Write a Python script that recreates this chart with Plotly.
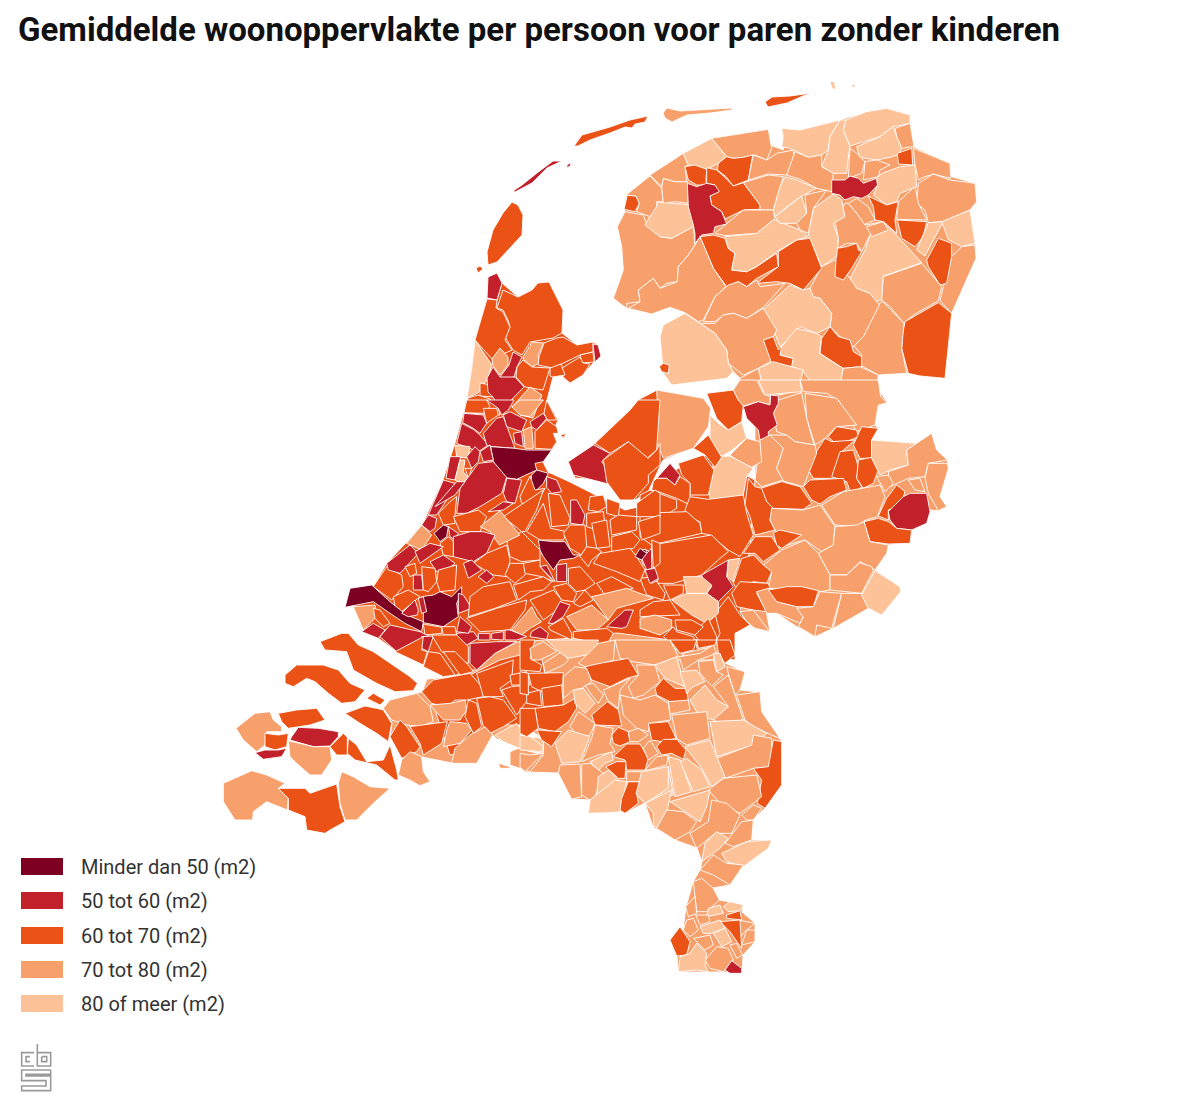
import plotly.graph_objects as go

TITLE = "Gemiddelde woonoppervlakte per persoon voor paren zonder kinderen"
LEGEND_LABELS = ["Minder dan 50 (m2)", "50 tot 60 (m2)", "60 tot 70 (m2)", "70 tot 80 (m2)", "80 of meer (m2)"]
CLASS_COLORS = ["#7d0022", "#c2202a", "#ea5216", "#f8a06c", "#fdc298"]
LEGEND_TOPS = [858, 892, 927, 961, 995]

# Municipal outlines. Each entry: class index, then outline points.
# Coordinates are in the reading frame of the crop named by each group.
BASE = [
"2 487,298 497,300 502,283 518,297 532,290 538,283 549,282 563,310 562,333 577,345 593,342 598,345 601,356 594,362 583,375 570,383 562,370 553,377 547,400 558,420 553,432 557,442 552,450 543,462 548,472 570,482 625,510 655,503 665,475 705,455 755,480 770,600 750,625 735,633 735,660 617,655 573,650 517,650 495,653 477,670 473,672 460,675 443,677 423,665 397,652 378,638 363,630 353,607 374,585 387,563 421,527 443,480 455,443 467,400 475,340",
"3 422,692 390,700 383,708 392,723 390,737 402,758 398,775 420,786 430,782 423,772 422,757 452,763 477,763 493,735 498,740 517,723 543,738 543,753 525,772 558,773 572,799 590,800 588,813 620,812 625,813 645,803 653,827 675,840 697,848 702,862 700,870 693,882 686,907 683,930 670,940 677,956 678,972 723,972 742,973 743,955 755,942 755,923 742,912 743,905 730,902 719,900 713,888 730,885 743,867 768,848 772,840 752,840 753,820 765,808 782,785 782,742 762,712 760,692 740,690 745,672 725,663 735,655 730,640 670,640 617,633 573,638 517,642 495,653 477,670 472,670 450,677 427,679",
"2 430,695 500,660 540,650 550,700 530,725 500,725 470,750 450,755",
"2 568,462 593,445 630,410 638,400 657,390 703,398 711,408 708,427 693,448 663,460 648,492 635,500 620,492 600,480 575,478",
]
# crop at x=640, y=380, 3x
EAST_BASE = [
"3 345,0 715,0 722,50 742,68 715,75 705,135 715,145 695,180 830,190 875,160 890,210 922,240 925,265 900,350 920,380 895,392 870,390 860,430 815,450 810,490 745,495 740,520 705,570 780,620 782,635 725,705 685,685 580,745 525,770 470,740 410,700 380,700 390,755 345,745 320,725 300,695 330,500 345,300",
]
ISLANDS = [
"2 574,146 582,135 610,127 630,120 648,116 645,122 635,124 632,128 625,127 610,133 590,140 578,146",
"3 663,113 667,108 680,111 732,108 732,110 710,113 687,115 672,122 665,118",
"2 765,102 772,97 790,96 812,93 803,96 787,103 768,107",
"4 830,82 834,81 836,90 832,88",
"4 851,84 856,85 853,88",
"1 513,191 522,185 537,173 553,161 562,161 547,168 532,183 523,188 515,192",
"1 567,165 570,163 571,165 567,168",
"2 487,252 493,230 503,213 512,202 518,205 523,215 522,235 510,248 497,262 488,265",
"2 476,268 480,266 483,269 478,273",
"1 487,298 488,277 497,273 502,283 497,300",
"2 497,308 503,290 518,297 532,290 538,283 549,282 563,310 562,333 553,338 530,342 522,355 513,350 505,337 510,327 508,320 503,310",
"2 475,340 487,299 497,300 496,308 503,312 510,327 505,340 512,350 492,359",
"4 475,340 492,365 487,380 478,393 467,398 472,367",
"3 492,359 500,348 508,357 508,365 500,375 493,366",
"1 513,352 522,357 517,367 514,377 503,379 500,377 509,365",
"2 480,383 490,385 495,397 480,396",
"1 487,378 493,367 500,377 515,377 524,387 513,398 503,415 493,397 488,392",
"3 523,357 532,342 544,343 538,355 539,363 532,367 523,359",
"2 539,357 544,343 557,338 563,337 577,345 593,342 593,352 580,355 553,368 538,365",
"1 593,344 598,345 601,356 595,362",
"2 580,355 593,352 594,362 582,363",
"2 562,368 580,357 583,363 590,364 583,375 570,383 563,377",
"2 550,368 561,364 565,375 553,377 550,376",
"2 517,367 523,360 532,367 550,368 543,390 525,387 516,377",
"3 512,407 530,387 542,395 533,418 520,415",
"2 466,413 468,398 478,395 490,399 498,407 500,415",
]
# crop at x=600, y=70, 3x
NORTH = [
"3 40,685 70,600 65,530 52,470 75,420 78,378 150,315 250,250 335,205 505,178 510,225 550,240 545,175 600,180 720,150 800,125 860,115 930,135 940,230 1050,280 1055,320 1125,340 1130,395 1110,420 1125,520 1128,565 1090,650 1055,730 1035,925 960,918 925,910 835,915 830,950 860,995 820,1020 420,1020 400,960 420,925 400,905 385,880 380,840 345,790 300,760 255,728 210,712 155,732 85,715 80,715",
"3 52,470 75,425 130,435 140,465 180,500 215,505 280,470 285,525 265,555 235,590 232,635 200,640 180,655 160,625 115,660 120,695 80,700 80,715 40,685 70,600 65,530",
"4 135,465 175,395 220,400 260,405 278,405 280,470 215,505 180,500",
"2 72,418 82,375 108,378 118,400 105,425",
"3 78,375 150,318 185,355 190,395 170,395 170,410 150,440 120,430 110,425 118,400 108,378",
"3 185,350 190,325 225,335 262,335 265,400 225,395 190,400",
"3 150,315 250,250 265,285 255,290 260,335 225,335 190,325 185,350",
"4 250,250 335,205 380,260 355,280 320,298 285,290 265,285",
"3 335,205 505,178 515,235 500,270 465,255 430,262 400,265 380,260",
"2 255,290 285,285 320,298 318,330 320,345 290,345 265,330",
"2 355,280 380,260 400,265 430,262 458,255 445,330 400,348 378,320 352,300",
"2 320,293 350,300 378,325 400,348 430,338 480,405 480,418 430,420 375,447 365,425 335,405 330,378 355,365 345,345 320,340",
"1 262,340 290,350 320,340 345,345 358,365 330,378 335,405 365,425 380,462 345,470 340,490 305,495 285,520 285,490 280,465 265,410",
"3 445,330 460,255 500,270 530,250 580,240 583,275 560,315 505,312",
"3 430,338 505,315 550,320 520,420 480,420 480,405",
"4 545,175 600,180 720,150 690,200 685,240 665,255 625,262 590,245 570,235 545,230 550,200",
"4 720,150 738,150 730,180 750,228 745,262 740,310 700,310 665,290 685,240 690,200",
"4 738,150 800,125 860,115 930,135 930,160 880,170 840,200 790,215 750,228 730,180",
"3 885,175 930,160 942,230 935,230 905,235 890,200",
"4 770,230 840,200 880,170 890,200 905,235 893,255 870,262 830,270 780,262",
"2 892,250 935,235 938,285 895,282",
"3 940,235 1050,280 1052,325 1000,312 975,320 955,330 945,285",
"3 750,235 770,250 795,275 785,310 745,325",
"3 795,275 830,270 870,285 840,300 835,320 790,330",
"3 560,315 585,245 625,262 665,255 665,290 700,310 695,365 650,355 600,328",
"1 695,330 735,330 750,318 775,325 790,340 830,325 833,345 805,375 785,385 760,380 735,390 720,375 695,370",
"4 845,310 900,290 945,285 950,350 900,370 890,395 860,405 820,375 833,345 830,325",
"3 955,340 1000,312 1050,330 1125,340 1130,395 1110,420 1030,455 985,458 975,420 950,400",
"3 895,395 945,350 955,400 980,450 890,448",
"3 745,400 770,385 805,410 825,450 790,465 770,430",
"2 805,378 860,405 895,395 885,450 890,490 850,455 825,450 820,410",
"2 892,450 980,455 970,500 945,530 905,505",
"4 985,458 1030,455 1000,510 975,558 950,540",
"4 1025,455 1110,420 1125,520 1085,530 1045,508",
"3 1085,530 1125,525 1128,565 1090,650 1055,730 1020,692 1030,650 1055,560",
"4 750,625 795,540 810,495 855,458 965,578 850,618 845,690 825,695 810,670 770,655",
"2 980,570 1015,505 1055,520 1055,560 1040,640 1020,645 985,590",
"3 850,620 965,580 1025,650 1015,692 940,735 912,760 870,710 845,690",
"2 908,790 915,755 1015,698 1055,730 1035,925 960,918 925,910 905,835",
"3 760,825 800,770 838,700 848,695 912,760 905,835 920,910 835,915 780,885 785,855",
"3 630,655 665,590 705,570 750,625 770,655 810,670 838,705 790,800 760,830 720,800 690,770 695,730 660,685 635,680",
"3 705,455 735,400 745,400 770,430 795,465 850,455 810,495 785,545 770,520 740,520 712,535 715,505",
"2 705,620 710,535 740,530 770,520 775,540 785,545 755,595 730,630",
"3 800,470 850,455 865,480 815,500",
"4 640,415 700,372 725,390 735,440 700,460 715,505 710,560 665,590 630,510 625,490",
"2 470,640 535,590 535,545 590,510 630,505 665,595 610,660 570,640 530,635",
"2 300,500 340,495 375,505 385,535 405,550 395,600 440,605 470,590 530,550 535,590 470,625 440,650 415,635 380,650 340,595",
"4 375,500 470,490 520,448 600,480 625,500 590,510 530,545 470,590 440,605 395,600 405,550 385,535",
"3 345,490 380,460 430,420 520,420 525,445 470,490 375,497",
"4 520,420 540,350 555,320 590,330 650,355 610,375 560,410 525,440",
"4 525,440 605,378 620,430 590,460 540,460",
"3 590,460 620,430 615,375 680,360 640,415 625,490 600,480",
"3 115,660 160,625 180,655 232,635 235,590 265,555 285,525 300,500 340,595 378,650 345,680 310,750 295,755 255,728 210,712 155,732 85,715 120,695",
"3 310,755 345,680 385,645 415,635 440,650 470,630 480,650 555,640 490,712 440,745 400,730 370,735 345,755",
"4 490,718 570,645 610,660 630,655 640,680 660,685 695,730 690,770 650,790 600,770 580,795 540,830 520,780",
"3 300,760 345,760 370,735 400,730 440,745 490,715 530,780 520,800 490,810 520,870 475,895 430,915 385,880 380,840 345,790",
"2 490,810 520,800 535,840 550,825 540,855 580,865 575,890 515,880",
"4 545,830 590,775 650,790 665,800 658,850 705,880 730,895 720,945 640,945 610,905 575,890 580,865 540,855",
"2 690,770 715,800 750,810 760,845 785,860 785,890 730,895 700,875 660,850 665,805",
"4 180,800 190,765 255,730 300,760 345,790 380,840 385,880 400,905 380,925 215,945 190,910",
"2 178,890 190,880 208,885 205,910 185,905",
"4 475,895 520,875 610,900 595,960 540,975 490,960",
"3 420,925 475,895 490,960 510,985 440,985 400,960",
"3 600,955 640,945 720,945 730,895 780,890 835,915 830,950 860,995 820,1020 610,1020",
]
# crop at x=640, y=380, 3x
EAST = [
"3 50,30 190,55 212,85 205,140 160,205 70,235 42,170 55,130",
"2 200,40 280,30 295,60 310,75 305,125 265,150 230,115 215,75",
"3 280,30 300,0 350,0 370,40 390,50 390,75 355,65 310,78 295,60",
"4 355,0 480,0 485,35 375,45",
"3 480,0 715,0 722,50 742,68 715,75 705,135 650,155 595,60 560,40 490,35",
"3 495,40 590,55 650,135 590,140 555,175 525,195 500,115",
"3 410,155 400,100 415,60 485,38 500,115 522,195 465,185 440,165",
"1 310,80 355,65 390,75 392,45 415,48 415,70 400,100 412,135 385,155 385,180 360,180 355,150 320,115",
"2 565,170 590,140 650,150 655,170 620,185 580,185",
"2 500,260 555,175 575,185 645,180 605,215 595,245 580,295 520,295",
"2 640,195 665,140 715,145 695,180 695,235 660,235",
"2 575,290 600,215 640,210 655,260 650,295 665,320 635,345 620,305",
"2 655,240 695,232 715,270 700,310 670,325 650,295",
"4 695,180 830,190 800,210 805,255 750,270 720,285 695,235",
"3 800,210 875,160 890,210 922,240 865,250 855,290 805,295 750,320 745,275 805,255",
"3 865,250 922,250 925,265 900,350 920,380 895,392 865,340 855,295",
"3 805,300 840,295 855,335 825,330",
"3 710,290 745,285 760,310 735,335",
"2 715,408 740,355 770,315 795,335 790,350 770,380 745,390 745,420",
"1 745,395 790,350 810,340 860,340 870,395 860,430 815,450 770,445 750,420",
"2 672,425 715,415 745,425 770,445 815,450 810,490 745,492 690,485",
"3 545,375 610,335 720,315 735,350 712,410 672,422 655,440 585,435",
"2 490,320 510,300 610,295 620,330 570,350 540,372 515,360",
"2 362,325 425,305 480,320 515,370 490,388 400,385 380,365",
"3 345,300 360,180 390,165 430,205 410,265 430,300 365,320",
"3 390,165 440,165 465,185 525,195 530,220 490,320 430,303 410,265 430,205",
"3 270,225 320,175 360,185 365,245 335,262 295,245",
"4 210,105 235,130 265,150 305,125 320,175 270,215 240,232 210,175",
"4 225,230 270,228 340,265 320,290 310,345 210,360 205,320",
"2 160,205 205,165 245,232 225,262 195,225",
"2 115,250 190,225 222,270 205,345 150,345 150,310 125,285",
"1 50,295 90,250 120,285 105,315 80,295",
"2 40,305 50,295 80,295 105,315 120,290 150,310 150,375 110,355 55,335 35,330",
"2 0,345 30,330 110,360 110,385 70,410 0,400",
"2 135,390 150,350 205,358 310,345 320,400 340,465 300,530 265,510 210,465 185,460 180,425 140,410",
"2 315,375 325,295 345,320 365,325 380,365 400,385 390,420 405,450 345,465 330,410",
"3 395,385 490,390 540,375 585,440 580,495 545,515 495,480 425,500 405,450 390,420",
"2 400,458 420,450 485,465 425,505 410,495",
"3 585,440 650,435 672,425 690,485 745,495 740,520 705,570 660,545 620,585 570,585 535,520 580,495",
"3 365,560 425,510 495,480 535,520 570,585 570,630 540,635 385,625 395,575",
"2 310,520 345,470 395,470 420,510 370,545 345,520",
"2 0,400 140,395 180,430 185,460 35,495 0,470",
"2 35,495 215,465 265,515 240,535 185,585 100,610 55,610 30,550",
"1 185,585 265,540 260,590 280,620 235,665 200,640 215,620 190,605",
"4 265,540 300,535 280,600 285,612 262,590",
"2 305,535 340,525 370,555 395,575 380,610 340,605 290,625 280,610",
"2 275,640 300,605 385,610 390,625 350,640 380,695 340,690 290,680",
"3 350,635 385,625 410,665 470,680 490,710 480,730 410,700 380,700",
"2 385,630 440,620 485,620 535,632 520,680 470,680 410,665",
"3 470,685 520,680 540,635 605,640 575,745 530,735 525,770 475,740 490,712",
"3 580,745 605,640 665,640 685,685",
"3 570,585 620,585 660,548 695,560 700,572 665,640 570,630",
"4 705,572 780,620 782,635 725,705 685,685 665,645",
"3 300,695 340,690 385,750 390,755 345,745 320,725",
"2 225,700 265,650 300,705 330,735 285,760 285,840 250,835 230,780 240,760",
"4 95,660 140,640 200,640 235,665 235,700 200,730 155,705",
"4 130,590 185,590 215,615 200,640 140,640",
"2 70,615 130,615 130,640 90,660",
"2 0,595 40,590 75,640 70,660 20,645",
"1 15,570 40,560 55,600 35,610",
"1 0,530 20,510 35,520 30,560 10,555",
"0 0,510 18,508 20,530 0,530",
"2 160,760 205,715 230,770 230,790 195,805",
"2 105,720 155,720 190,740 165,765 110,750",
"2 70,770 100,740 110,755 160,770 175,815 130,820",
"2 0,690 40,665 90,660 120,705 0,710",
"3 0,715 45,705 95,720 95,745 60,765 0,745",
"3 0,790 70,790 130,820 125,840 0,840",
"3 130,820 195,805 225,820 220,840 130,840",
]
# crop at x=340, y=400, 3x
WEST = [
"2 380,0 440,0 450,20 430,40 372,38",
"1 372,40 430,45 440,70 420,100 400,85 368,68",
"1 365,70 400,88 420,105 445,135 415,155 350,130",
"1 430,100 470,55 490,50 520,130 525,145 455,140 440,135",
"2 430,25 470,25 475,45 440,70",
"1 440,0 522,0 505,30 485,45 475,25",
"3 515,20 540,0 610,0 570,50 540,45",
"1 490,45 510,35 560,60 545,95 500,80",
"1 520,100 545,95 550,140 525,130",
"3 550,90 575,80 580,145 555,145",
"1 570,65 610,40 620,55 590,90 575,80",
"2 585,95 620,60 650,80 655,100 640,100 650,125 635,148 585,145",
"2 620,0 650,60 622,60 612,40",
"0 452,140 525,145 560,150 635,150 610,185 585,190 590,210 555,225 530,238 490,232 460,185",
"0 575,225 590,210 625,220 610,250 585,275 570,260",
"1 620,230 650,240 665,275 635,280 620,262",
"2 660,105 680,100 670,113",
"4 345,135 390,140 385,175 350,170",
"1 330,170 362,170 345,240 318,235",
"4 360,180 375,180 370,215 385,235 365,250 345,240",
"2 375,205 395,205 385,235",
"1 380,170 405,140 420,155 415,185 395,205",
"1 420,155 450,135 460,180 430,185",
"1 350,340 360,265 415,190 460,185 500,232 485,280 420,320 380,340",
"1 500,235 545,240 525,310 500,305 490,280",
"2 540,290 570,228 585,270 615,265 590,310 545,310",
"1 445,335 490,305 520,310 490,330",
"1 265,345 310,240 345,250 320,300 290,345",
"1 285,320 350,245 375,245 345,285",
"2 295,340 330,305 350,290 345,345 345,370 310,375",
"1 245,375 265,345 290,355 285,385 270,395",
"3 200,430 245,375 275,405 245,450",
"0 282,400 310,375 325,380 320,410 300,425",
"1 325,380 355,400 345,420 330,410",
"2 340,350 415,330 440,350 420,395 360,395",
"2 490,350 610,270 590,330 555,395 545,395",
"2 500,420 545,395 600,450 600,480 545,485 510,470",
"3 420,380 480,332 540,405 478,435 450,395",
"1 340,410 390,395 430,395 465,405 440,460 400,485 340,470",
"2 300,430 325,410 340,425 340,470 310,465",
"2 100,560 140,500 185,525 190,560 155,600 110,565",
"1 140,490 210,435 235,460 180,520 145,510",
"1 225,455 270,430 310,440 270,470 240,490",
"1 270,485 310,465 345,490 320,510 290,515",
"2 195,500 225,490 230,520 210,530",
"1 220,525 245,525 250,570 220,570",
"2 245,500 285,505 290,545 265,575 250,570",
"2 295,510 350,495 345,570 300,575 290,545",
"2 160,590 205,570 240,590 185,635 165,620",
"0 15,622 30,565 95,555 150,605 200,645 250,665 245,695 195,670 150,640 100,605",
"0 245,590 280,585 300,575 335,590 365,560 365,580 350,610 355,650 310,680 250,668 250,640",
"1 185,640 225,600 235,630 232,645 205,650",
"1 235,595 250,590 260,635 245,640",
"1 355,580 370,585 395,625 355,640",
"2 400,490 440,460 500,435 510,480 500,530 460,525",
"1 370,490 395,480 425,510 385,535",
"1 415,530 440,510 462,530 440,550",
"2 560,395 610,310 632,385 680,395 670,420 640,420 600,420",
"2 635,380 625,280 660,285 690,355 685,375",
"1 692,300 710,300 735,345 728,375 692,370",
"2 670,400 690,375 735,375 740,440 725,465 690,445",
"0 595,420 640,425 675,425 700,465 720,465 700,475 660,480 640,510 610,470 600,450",
"1 600,500 620,495 645,545 625,525",
"1 650,495 680,490 680,545 650,545",
"2 510,490 550,490 560,520 525,550 495,525",
"2 550,490 600,480 600,500 640,545 605,530 555,520",
"2 520,555 610,530 635,545 610,570 570,575 535,600",
"2 390,590 430,560 510,545 530,600 465,625 385,650",
"2 380,655 470,625 560,600 555,630 510,690 420,695",
"3 515,690 575,620 590,650 605,665 570,685 545,705",
"2 570,600 640,570 665,600 645,635 610,660",
"1 625,670 660,605 690,615 670,650 640,670",
"2 640,560 680,550 710,580 700,605 665,600",
"2 700,610 735,570 760,600 720,620",
"2 685,505 720,500 765,550 735,570 710,575 685,550",
"2 750,290 790,285 800,320 775,335 745,330",
"2 800,295 840,310 835,350 800,340",
"2 740,340 790,335 795,375 755,385 740,380",
"2 755,370 800,360 810,440 770,445",
"2 810,360 835,345 890,350 890,390 815,405",
"2 890,310 945,270 960,280 960,350 890,350",
"2 815,410 875,395 900,420 880,445 815,460",
"2 895,365 960,345 960,400 905,420",
"2 780,460 870,445 890,470 915,510 900,545 830,515 760,490",
"2 740,440 770,445 785,455 755,480 745,500 720,470",
"2 770,550 815,530 880,565 795,585",
"2 935,420 960,430 960,490 940,505",
"1 905,475 935,445 935,505 920,510",
"0 885,470 900,445 920,460 905,480",
"1 915,510 945,505 955,535 930,550",
"3 755,590 860,565 940,595 830,625 805,660 760,600",
"3 680,650 755,615 805,660 770,690 710,690",
"1 800,680 855,630 880,630 860,680 845,685",
"2 625,680 670,655 695,700 695,720 630,690",
"1 575,695 600,680 625,700 620,718 570,710",
"2 700,695 800,685 820,700 800,735 700,715",
"1 390,730 470,725 530,725 465,760 410,810 390,790",
"1 415,700 450,700 450,720 415,720",
"1 455,700 490,695 490,720 455,718",
"1 495,690 510,690 560,710 530,720 495,720",
"1 350,700 400,695 415,715 380,735 350,725",
"1 360,650 395,680 385,700 350,695",
"2 250,672 305,682 305,700 255,705",
"2 305,680 345,680 350,705 310,705",
"1 120,710 150,675 240,695 270,710 170,755",
"1 65,695 100,670 135,690 115,715",
"3 40,620 105,615 110,650 70,690",
"2 100,625 120,630 150,670 130,680 105,655",
"1 245,710 280,708 265,755 245,745",
"2 165,755 250,710 245,750 262,755 250,795",
"2 250,800 265,755 300,760 345,825 310,830",
"2 275,705 350,705 385,740 385,790 340,775 305,755",
"2 310,755 345,755 385,795 400,815 360,825",
"1 685,185 760,135 810,160 785,185 830,250 805,252 700,225",
"2 765,130 870,30 895,0 960,0 950,150 920,175 865,125 810,160",
"2 790,180 865,125 925,175 950,150 960,130 960,195 925,225 925,250 880,300 840,300 800,245",
]
# crop at x=210, y=620, 3x
SOUTHWEST = [
"2 330,65 395,40 415,40 445,75 490,95 550,135 600,170 622,190 610,212 555,215 500,190 430,150 410,95 345,90",
"2 225,165 260,135 340,135 385,150 420,190 465,210 435,245 395,250 355,220 315,185 290,175 250,200 225,190",
"2 470,235 490,220 525,240 510,255",
"2 205,280 260,270 320,265 345,300 300,315 260,320 235,325 215,305",
"3 78,325 135,280 180,275 190,300 215,320 215,335 170,335 165,375 140,395 100,360",
"2 165,340 205,345 235,340 230,380 195,390 165,380",
"1 135,398 165,390 205,390 230,385 215,410 160,418",
"1 245,350 265,322 325,325 385,335 385,350 360,378 310,380 240,360",
"3 235,362 310,380 360,380 365,420 335,465 300,465 260,430 240,410",
"2 360,380 400,340 412,352 412,405 380,405",
"2 415,355 440,375 470,425 520,420 540,375 560,450 565,480 555,480 500,435 435,420 412,400",
"2 405,280 465,258 500,265 520,270 545,310 535,365 500,340 450,310",
"3 520,265 540,240 620,220 660,260 670,305 630,320 590,315 545,300",
"2 635,215 670,180 780,160 820,205 820,230 770,240 735,240 710,262 665,250",
"3 660,255 720,250 765,240 770,270 750,300 700,300",
"2 765,290 775,240 800,250 815,320 790,340",
"2 800,235 840,230 880,240 920,295 880,320 840,340 820,320",
"2 540,350 570,300 590,320 630,380 620,395 575,415",
"2 600,320 670,310 712,305 695,370 640,405 630,370",
"3 700,380 712,325 720,305 770,310 785,330 750,370",
"3 725,430 735,385 780,345 825,320 848,345 800,430",
"3 575,420 600,395 635,410 640,455 660,485 630,497 600,480 565,465",
"4 855,345 920,310 950,350 1000,355 1000,400 940,390 880,365",
"3 900,395 925,385 1000,405 960,455 900,435",
"3 865,430 900,440 900,445 870,445",
"3 40,490 125,452 170,465 225,490 205,505 235,535 232,570 170,545 130,575 128,600 75,600 40,545",
"2 205,505 285,505 300,520 380,492 390,560 405,605 360,630 345,640 290,630 285,590 235,570 235,535",
"3 385,490 395,455 430,470 480,500 540,505 490,550 440,600 405,600 390,550",
"2 905,200 950,195 960,230 920,285 875,210",
"2 800,160 910,120 905,180 870,205 880,230 820,230",
"2 900,165 950,155 960,195 905,195",
]
# crop at x=520, y=640, 3x
SOUTHEAST = [
"4 0,285 30,290 70,320 65,335 0,330",
"3 0,340 30,345 70,340 35,375 15,395 0,380",
"2 25,100 130,98 128,135 65,155 35,140",
"2 65,145 125,135 130,195 70,200",
"2 20,160 60,150 65,198 20,190",
"2 45,205 130,195 165,175 170,205 145,245 105,275 55,265",
"2 0,205 45,205 55,265 20,290 0,280",
"2 50,270 125,275 95,320 65,300",
"2 0,95 25,100 25,165 0,160",
"2 0,0 45,0 30,55 65,75 60,95 0,90",
"3 30,25 70,5 110,35 60,60 35,60",
"3 70,70 125,35 145,60 130,75 75,100",
"4 80,0 235,0 225,40 145,55 110,30",
"3 175,70 235,10 285,0 280,60 205,85",
"3 285,0 450,0 475,50 405,75 340,65 300,55",
"2 195,80 240,70 325,55 355,105 320,115 270,140 215,120",
"3 130,110 165,80 200,85 215,125 185,145 160,150 130,175",
"3 350,75 405,75 420,125 370,165 340,175 325,140 355,105",
"4 405,75 470,50 495,140 435,115",
"2 405,145 430,115 465,145 500,145 505,185 450,185 410,165",
"4 480,95 530,90 555,125 520,140 500,160",
"3 478,50 540,40 580,15 590,40 535,60 490,90",
"2 450,0 530,0 520,30 480,40",
"2 530,0 590,0 585,15 535,25",
"2 590,0 630,0 645,45 615,70 595,40",
"3 535,65 580,60 590,95 610,105 575,138 540,100",
"4 580,40 600,40 615,80 590,95",
"3 620,80 675,95 660,150 645,165 625,100",
"3 580,140 625,105 670,240 590,250 580,235 625,200",
"4 510,180 555,135 590,180 625,200 580,240 535,225",
"3 445,185 505,180 510,210 450,222",
"3 650,165 720,155 725,215 780,295 755,285 700,260 675,240",
"3 300,165 360,180 405,165 445,190 452,240 390,250 385,275 350,265 310,225",
"3 250,150 330,115 300,150 295,205 262,180",
"4 160,150 190,145 225,190 195,220 165,190",
"3 195,135 220,130 250,165 235,190 215,165",
"2 215,225 262,185 295,210 305,258 225,255",
"3 150,260 175,215 225,250 210,285 180,295",
"2 275,285 295,262 325,275 330,305 300,318 280,310",
"3 325,275 355,265 385,285 355,305 330,305",
"2 385,250 445,245 468,295 425,305 395,300",
"2 410,320 430,298 470,298 498,330 490,358 455,340 425,345",
"3 455,225 560,215 570,295 500,315 470,295",
"4 570,245 670,240 740,280 700,315 590,350",
"3 590,355 695,315 700,285 755,295 755,380 700,385 615,415",
"2 700,385 745,380 760,300 785,305 785,435 735,505 712,490 725,420",
"4 495,320 570,300 615,410 575,440 545,385",
"3 565,450 610,415 710,405 725,470 660,520 600,490",
"4 480,365 500,355 545,390 570,440 520,455",
"4 445,350 480,360 515,455 465,470",
"4 345,460 445,380 460,465 375,490",
"4 450,485 570,450 560,500 540,545 510,525",
"4 375,490 455,450 430,560 400,560 400,520",
"3 410,565 440,510 490,515 530,545 510,575 465,600",
"3 510,580 565,545 575,480 620,490 660,525 635,580 585,580 530,625",
"3 615,610 665,545 700,540 695,600 640,620",
"3 665,525 700,495 725,505 700,540 680,540",
"4 555,610 590,575 625,595 600,625 580,640 545,665",
"4 605,640 680,605 755,600 745,625 670,680 620,665",
"3 540,690 580,645 620,670 670,675 630,735 580,705",
"3 520,725 545,715 580,745 598,780 560,815 530,815",
"3 497,800 525,770 530,820 505,830",
"4 565,805 600,795 610,820 560,830",
"4 610,800 630,785 670,795 660,812 625,815",
"2 620,825 660,812 665,840 620,835",
"3 655,840 705,850 680,870 660,890",
"2 600,845 660,840 665,925 630,875",
"3 680,870 705,870 705,905 665,915",
"3 527,825 565,825 570,845 540,855",
"4 540,860 600,840 615,865 575,880 550,880",
"3 500,840 520,835 535,870 510,890 490,870",
"2 450,900 480,860 510,905 500,945 470,948",
"3 520,895 570,885 580,915 555,930",
"4 580,880 615,865 635,905 605,920",
"3 630,915 650,910 668,945 650,955",
"3 555,960 590,920 625,925 640,960 610,995 570,985",
"4 475,995 480,950 510,940 530,910 560,940 555,975 565,995 530,990",
"1 615,990 635,962 665,985 665,1000 630,1000",
"3 185,365 215,295 225,255 280,265 270,310 285,335 235,345",
"4 210,365 275,335 280,360 255,370 235,392",
"2 280,350 320,312 360,312 385,355 375,390 320,390 315,360",
"2 257,380 290,365 318,365 315,415 295,415",
"3 370,325 390,300 415,340 385,360",
"3 380,385 410,350 445,345 440,375 378,392",
"4 105,310 145,270 210,290 180,365 125,370",
"3 115,400 120,375 180,372 185,470 155,478",
"3 185,372 210,370 250,400 225,470 210,480 185,465",
"4 230,470 235,410 265,390 295,420 290,445",
"4 205,520 210,480 285,420 320,425 305,490 300,515 270,518",
"2 300,510 305,475 325,425 375,425 350,460 355,490 315,520",
"3 320,395 365,395 365,425 320,425",
"4 365,395 445,380 445,445 375,490 348,462",
]
# CBS mark strokes, crop at x=0, y=840, 3x
LOGO = [
"102,638 65,638 65,678 102,678",
"90,650 78,650 78,665 90,665",
"112,612 112,678 152,678 152,638 112,638",
"125,650 140,650 140,665 125,665 125,650",
"152,690 65,690 65,722 138,722 138,738 65,738 65,752 152,752 152,708 78,708 78,703 152,703 152,690",
]

GROUPS = [(BASE, 0, 0, 1), (EAST_BASE, 640, 380, 3), (ISLANDS, 0, 0, 1), (NORTH, 600, 70, 3), (EAST, 640, 380, 3),
          (WEST, 340, 400, 3), (SOUTHWEST, 210, 620, 3), (SOUTHEAST, 520, 640, 3)]


def points(text, ox, oy, scale):
    xs, ys = [], []
    for pair in text.split():
        a, b = pair.split(",")
        xs.append(ox + float(a) / scale)
        ys.append(oy + float(b) / scale)
    return xs, ys


fig = go.Figure()
for rows, ox, oy, scale in GROUPS:
    for row in rows:
        cls, rest = row.split(" ", 1)
        xs, ys = points(rest, ox, oy, scale)
        xs.append(xs[0]); ys.append(ys[0])
        fig.add_trace(go.Scatter(
            x=xs, y=ys, mode="lines", fill="toself",
            fillcolor=CLASS_COLORS[int(cls)],
            line=dict(color="white", width=0.9),
            hoverinfo="skip", showlegend=False))
for stroke in LOGO:
    xs, ys = points(stroke, 0, 840, 3)
    fig.add_trace(go.Scatter(x=xs, y=ys, mode="lines", line=dict(color="#9a9a9a", width=1.6),
                             hoverinfo="skip", showlegend=False))

shapes = []
annotations = [dict(x=16, y=29, xref="x", yref="y", text="<b>%s</b>" % TITLE, showarrow=False,
                    xanchor="left", yanchor="middle",
                    font=dict(family="Roboto", size=33, color="#111111"))]
for label, color, top in zip(LEGEND_LABELS, CLASS_COLORS, LEGEND_TOPS):
    shapes.append(dict(type="rect", xref="x", yref="y", x0=21, x1=63, y0=top, y1=top + 17,
                       fillcolor=color, line=dict(width=0)))
    annotations.append(dict(x=79, y=top + 8.5, xref="x", yref="y", text=label, showarrow=False,
                            xanchor="left", yanchor="middle",
                            font=dict(family="Roboto", size=20, color="#333333")))

fig.update_layout(
    width=1200, height=1114, margin=dict(l=0, r=0, t=0, b=0),
    paper_bgcolor="white", plot_bgcolor="white", showlegend=False,
    xaxis=dict(range=[0, 1200], visible=False, fixedrange=True),
    yaxis=dict(range=[1114, 0], visible=False, fixedrange=True),
    shapes=shapes, annotations=annotations)
fig.write_html("out.html", config={"displayModeBar": False},
               post_script="document.body.style.margin='0';document.body.style.overflow='hidden';")
